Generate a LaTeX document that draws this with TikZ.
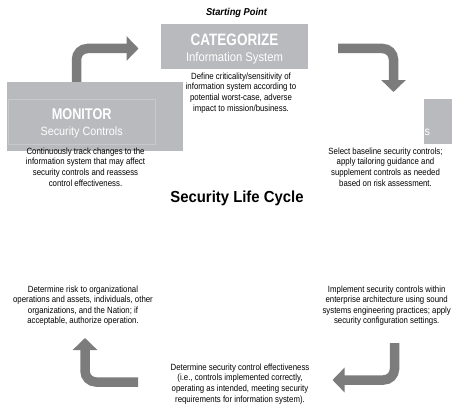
\documentclass[tikz,border=0pt]{standalone}
\usepackage{fontspec}
\setmainfont{Liberation Sans}
\newfontfamily\narrowfont{Liberation Sans}[FakeStretch=0.87]
\newfontfamily\boxfont{Liberation Sans}[FakeStretch=0.82]
\newfontfamily\subfont{Liberation Sans}[FakeStretch=0.9]
\newfontfamily\titlefont{Liberation Sans}[FakeStretch=0.93]
\usetikzlibrary{arrows.meta}
\definecolor{boxgray}{RGB}{185,186,189}
\definecolor{innergray}{RGB}{200,201,204}
\definecolor{arrowgray}{RGB}{124,124,124}
\tikzset{
  x=1pt, y=-1pt,
  cyclearrow/.style={draw=arrowgray, line width=9.5pt, rounded corners=11pt,
    -{Triangle[width=24pt,length=12pt]}},
  stagebox/.style={fill=boxgray, draw=none},
  desc/.style={font=\narrowfont\fontsize{9}{10.6}\selectfont, align=center, inner sep=0pt, text=black},
  boxtitle/.style={font=\boxfont\bfseries\fontsize{16.5}{18}\selectfont, text=white, inner sep=0pt},
  boxsub/.style={font=\subfont\fontsize{12.5}{14}\selectfont, text=white, inner sep=0pt},
}
\begin{document}
\begin{tikzpicture}
\useasboundingbox[fill=white] (0,0) rectangle (452,404);
% arrow coordinates
\coordinate (a1s) at (76.5,86);
\coordinate (a1c) at (76.5,48.5);
\coordinate (a1e) at (138.5,48.5);
\coordinate (a2s) at (338,48.5);
\coordinate (a2c) at (393.5,48.5);
\coordinate (a2e) at (393.5,92);
\coordinate (a3s) at (394.5,343);
\coordinate (a3c) at (394.5,380);
\coordinate (a3e) at (332.5,380);
\coordinate (a4s) at (138,382);
\coordinate (a4c) at (85,382);
\coordinate (a4e) at (85,338);
\draw[cyclearrow] (a1s) -- (a1c) -- (a1e);
\draw[cyclearrow] (a2s) -- (a2c) -- (a2e);
\draw[cyclearrow] (a3s) -- (a3c) -- (a3e);
\draw[cyclearrow] (a4s) -- (a4c) -- (a4e);
% boxes
\fill[stagebox] (161,24) rectangle (307.5,69.3);
\node[boxtitle] (cat) at (234.5,39.5) {CATEGORIZE};
\node[boxsub] (catsub) at (234.5,58.5) {Information System};
\fill[stagebox] (7.3,81.7) rectangle (182.7,150.7);
\draw[innergray, line width=0.6pt] (8.3,99) rectangle (155,144.3);
\node[boxtitle, font=\boxfont\bfseries\fontsize{15.5}{17}\selectfont] (mon) at (81.7,114) {MONITOR};
\node[boxsub, font=\subfont\fontsize{12}{14}\selectfont] (monsub) at (81.7,132.5) {Security Controls};
\fill[stagebox] (424,99) rectangle (452,144.3);
\node[boxsub, font=\subfont\fontsize{12}{14}\selectfont, anchor=west] (selsub) at (424.5,132.5) {s};
% labels
\node[font=\titlefont\bfseries\itshape\fontsize{10}{12}\selectfont, inner sep=0pt] (start) at (236.5,13) {Starting Point};
\node[font=\titlefont\bfseries\fontsize{16}{18}\selectfont, inner sep=0pt] (title) at (237,198) {Security Life Cycle};
\node[desc, anchor=north] (d1) at (241,72.5) {Define criticality/sensitivity of\\information system according to\\potential worst-case, adverse\\impact to mission/business.};
\node[desc, anchor=north] (d2) at (85.5,147.5) {Continuously track changes to the\\information system that may affect\\security controls and reassess\\control effectiveness.};
\node[desc, anchor=north] (d3) at (385.5,147.5) {Select baseline security controls;\\apply tailoring guidance and\\supplement controls as needed\\based on risk assessment.};
\node[desc, anchor=north] (d4) at (83,285.3) {Determine risk to organizational\\operations and assets, individuals, other\\organizations, and the Nation; if\\acceptable, authorize operation.};
\node[desc, anchor=north] (d5) at (386.7,285.3) {Implement security controls within\\enterprise architecture using sound\\systems engineering practices; apply\\security configuration settings.};
\node[desc, anchor=north] (d6) at (240,363.5) {Determine security control effectiveness\\(i.e., controls implemented correctly,\\operating as intended, meeting security\\requirements for information system).};
\end{tikzpicture}
\end{document}
